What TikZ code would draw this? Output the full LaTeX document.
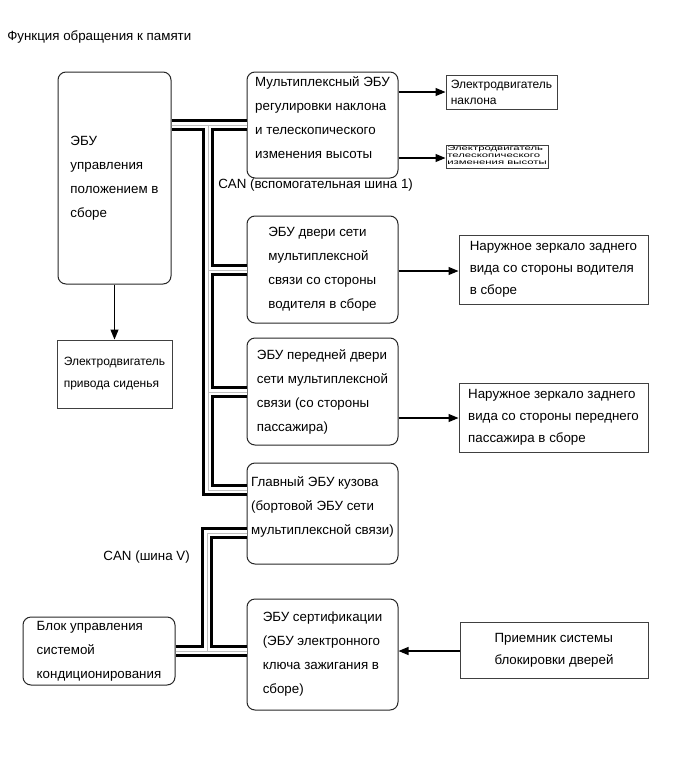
\documentclass[tikz,border=0pt]{standalone}
\usepackage{fontspec}
\setmainfont{Liberation Sans}
\usepackage{graphicx}
\usetikzlibrary{arrows.meta}

\tikzset{
  ecu/.style={draw=black!85, line width=0.75pt, rounded corners=6pt, align=left,
    inner sep=0pt, font=\fontsize{10}{18}\selectfont},
  part/.style={draw=black!75, line width=0.75pt, align=left, inner sep=0pt,
    font=\fontsize{10}{16.5}\selectfont},
  sig/.style={-{Triangle[length=7.5pt,width=6pt]}, line width=0.8pt},
  bus/.style={draw=gray!50, line width=0.6pt,
    preaction={draw=black, line width=8.4pt},
    preaction={draw=white, line width=4.2pt}},
  lbl/.style={inner sep=0pt, font=\fontsize{10}{12}\selectfont},
}

\begin{document}
\begin{tikzpicture}[x=0.75pt,y=-0.75pt]
\useasboundingbox (0,0) rectangle (689,757);
% title
\node[lbl,anchor=west] (title) at (7,37) {Функция обращения к памяти};
% seat position ECU and its motor
\node[ecu,minimum width=84.75pt,minimum height=159pt] (posECU) at (114.5,178)
  {ЭБУ\\управления\\положением в\\сборе};
\node[part,minimum width=86.25pt,minimum height=51pt,font=\fontsize{9}{16.5}\selectfont]
  (seatMotor) at (114.5,374) {Электродвигатель\\привода сиденья};
% tilt and telescopic ECU with motors
\node[ecu,minimum width=113.25pt,minimum height=79.5pt] (tiltECU) at (322.5,125)
  {Мультиплексный ЭБУ\\регулировки наклона\\и телескопического\\изменения высоты\\[-7pt]};
\node[part,minimum width=83.25pt,minimum height=25.5pt,font=\fontsize{9}{12}\selectfont]
  (tiltMotor) at (501.5,92) {Электродвигатель\\наклона};
\node[part,minimum width=76.5pt,minimum height=17.25pt] (teleMotor) at (497,156.5)
  {\scalebox{0.85}[0.5]{\fontsize{10}{10.5}\selectfont
   \begin{tabular}{@{}l@{}}Электродвигатель\\телескопического\\изменения высоты\end{tabular}}};
% door ECUs and mirrors
\node[ecu,minimum width=113.25pt,minimum height=80.25pt] (drvDoor) at (322.5,269.5)
  {ЭБУ двери сети\\мультиплексной\\связи со стороны\\водителя в сборе};
\node[part,minimum width=141.75pt,minimum height=51.75pt] (drvMirror) at (553.5,269.5)
  {Наружное зеркало заднего\\вида со стороны водителя\\в сборе};
\node[ecu,minimum width=113.25pt,minimum height=80.25pt] (pasDoor) at (322.5,391.5)
  {ЭБУ передней двери\\сети мультиплексной\\связи (со стороны\\пассажира)};
\node[part,minimum width=141.75pt,minimum height=51.75pt] (pasMirror) at (553.5,417.5)
  {Наружное зеркало заднего\\вида со стороны переднего\\пассажира в сборе};
% body ECU
\node[ecu,minimum width=113.25pt,minimum height=75.75pt] (bodyECU) at (322.5,513.5)
  {Главный ЭБУ кузова\\(бортовой ЭБУ сети\\мультиплексной связи)\\[-6pt]};
% certification ECU, air conditioning, lock receiver
\node[ecu,minimum width=113.25pt,minimum height=83.25pt] (certECU) at (322.5,654.5)
  {ЭБУ сертификации\\(ЭБУ электронного\\ключа зажигания в\\сборе)};
\node[ecu,minimum width=114pt,minimum height=51pt] (acUnit) at (99,651)
  {Блок управления\\системой\\кондиционирования};
\node[part,minimum width=141pt,minimum height=42pt] (lockRecv) at (554,650)
  {Приемник системы\\блокировки дверей};
% bus labels
\node[lbl,anchor=west] (can1) at (218,185) {CAN (вспомогательная шина 1)};
\node[lbl,anchor=east] (canV) at (190,557) {CAN (шина V)};
% CAN sub bus 1
\coordinate (j1) at (208,125);
\coordinate (j2) at (208,270);
\coordinate (j3) at (208,392);
\coordinate (j4) at (208,490);
\draw[bus] (posECU.east |- j1) -- (tiltECU.west |- j1)
  (j1) -- (j4) -- (bodyECU.west |- j4)
  (j2) -- (drvDoor.west |- j2)
  (j3) -- (pasDoor.west |- j3);
% CAN bus V
\coordinate (k1) at (207,533);
\coordinate (k2) at (207,651);
\draw[bus] (bodyECU.west |- k1) -- (k1) -- (k2)
  (acUnit.east |- k2) -- (certECU.west |- k2);
% signal lines
\draw[sig] (tiltECU.east |- tiltMotor.west) -- (tiltMotor.west);
\draw[sig] (tiltECU.east |- 0,158) -- (teleMotor.west |- 0,158);
\draw[sig] (drvDoor.east |- 0,271) -- (drvMirror.west |- 0,271);
\draw[sig] (pasDoor.east |- 0,418) -- (pasMirror.west |- 0,418);
\draw[sig] (lockRecv.west |- 0,651) -- (certECU.east |- 0,651);
\draw[sig] (posECU.south) -- (seatMotor.north);
\end{tikzpicture}
\end{document}
